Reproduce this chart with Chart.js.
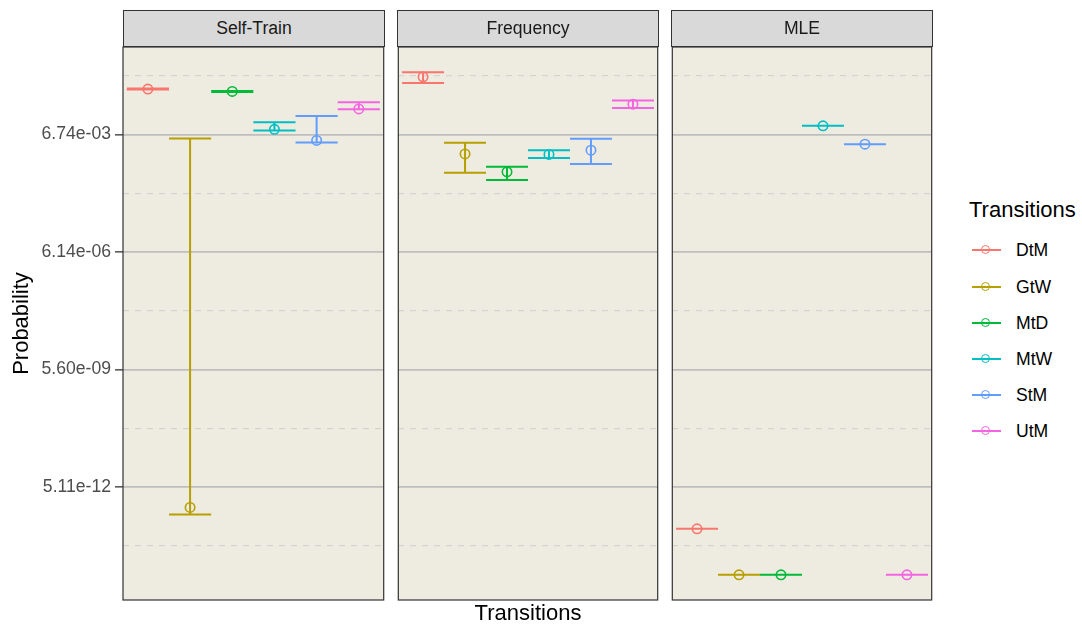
<!DOCTYPE html>
<html>
<head>
<meta charset="utf-8">
<script src="https://cdn.jsdelivr.net/npm/chart.js@4.4.1/dist/chart.umd.min.js"></script>
<style>
  html, body { margin: 0; padding: 0; background: #ffffff; }
  body { width: 1082px; height: 628px; position: relative; overflow: hidden;
         font-family: "Liberation Sans", Arial, Helvetica, sans-serif; }
  canvas { position: absolute; top: 0; }
  .strip { position: absolute; top: 10px; height: 37px; box-sizing: border-box;
           border: 1px solid #333333; background: #d9d9d9; color: #1a1a1a;
           font-size: 17.6px; display: flex; align-items: center; justify-content: center; }
  .xtitle { position: absolute; left: 123px; width: 810px; top: 600px; height: 26px;
            line-height: 26px; text-align: center; font-size: 22px; color: #000; }
  .legend-title { position: absolute; left: 969px; top: 197px; line-height: 26px;
                  font-size: 22px; color: #000; }
  .legend-item { position: absolute; left: 970px; width: 110px; height: 26px; }
  .legend-item .key-line { position: absolute; left: 1.7px; width: 29px; top: 12px; height: 2px; }
  .legend-item .key-dot { position: absolute; left: 11.2px; top: 8px; width: 7px; height: 7px;
                          border-radius: 50%; border: 1.6px solid; background: transparent; }
  .legend-item .key-text { position: absolute; left: 46px; top: 0; line-height: 26px;
                           font-size: 17.6px; color: #000; }
</style>
</head>
<body>
<canvas id="panel0" width="390" height="628" style="left:0px"></canvas>
<canvas id="panel1" width="272" height="628" style="left:392px"></canvas>
<canvas id="panel2" width="272" height="628" style="left:666px"></canvas>
<div class="xtitle">Transitions</div>
<div id="legend"></div>

<script>
// Facets, transition categories and colours
const facets = ['Self-Train', 'Frequency', 'MLE'];
const transitions = ['DtM', 'GtW', 'MtD', 'MtW', 'StM', 'UtM'];
const colors = ['#F8766D', '#B79F00', '#00BA38', '#00BFC4', '#619CFF', '#F564E3'];

// Estimated transition probabilities with lower / upper bounds
const selfTrainMean  = [0.1013, 1.524e-12, 0.08804, 0.009187, 0.004748, 0.03112];
const selfTrainLower = [0.09827, 1.001e-12, 0.08544, 0.008652, 0.004211, 0.03050];
const selfTrainUpper = [0.1044, 5.353e-3, 0.09072, 0.01412, 0.02024, 0.04596];

const frequencyMean  = [0.2101, 0.002134, 0.0007318, 0.002070, 0.002659, 0.04117];
const frequencyLower = [0.1466, 0.0006892, 0.0004528, 0.001662, 0.001159, 0.03304];
const frequencyUpper = [0.2780, 0.004128, 0.0009878, 0.002632, 0.005248, 0.05130];

const mleMean  = [4.236e-13, 2.735e-14, 2.735e-14, 0.01133, 0.003811, 2.735e-14];
const mleLower = [4.236e-13, 2.735e-14, 2.735e-14, 0.01133, 0.003811, 2.735e-14];
const mleUpper = [4.236e-13, 2.735e-14, 2.735e-14, 0.01133, 0.003811, 2.735e-14];

// Labelled breaks on the probability axis
const probabilityTicks = [6.738e-3, 6.144e-6, 5.603e-9, 5.109e-12];

const panels = [
  { mean: selfTrainMean, lower: selfTrainLower, upper: selfTrainUpper },
  { mean: frequencyMean, lower: frequencyLower, upper: frequencyUpper },
  { mean: mleMean,       lower: mleLower,       upper: mleUpper }
];

const FONT = '"Liberation Sans", Arial, Helvetica, sans-serif';
Chart.defaults.font.family = FONT;

// Shared y range: data extent on the log scale, widened by 5% each side
const allLower = panels.flatMap(p => p.lower);
const allUpper = panels.flatMap(p => p.upper);
const lnMin = Math.log(Math.min(...allLower));
const lnMax = Math.log(Math.max(...allUpper));
const lnPad = 0.05 * (lnMax - lnMin);
const yMin = Math.exp(lnMin - lnPad);
const yMax = Math.exp(lnMax + lnPad);

// Minor breaks sit halfway (geometrically) between the labelled ones
const stepRatio = Math.sqrt(probabilityTicks[0] / probabilityTicks[1]);
const gridTicks = [];
gridTicks.push({ value: probabilityTicks[0] * stepRatio, kind: 'minor' });
probabilityTicks.forEach(v => {
  gridTicks.push({ value: v, kind: 'major' });
  gridTicks.push({ value: v / stepRatio, kind: 'minor' });
});

function formatProb(v) {
  const [m, e] = v.toExponential(2).split('e');
  const sign = e[0] === '-' ? '-' : '+';
  const digits = e.replace(/^[+-]/, '').padStart(2, '0');
  return m + 'e' + sign + digits;
}

const CAP_HALF = 0.5;

// Panel background and frame
const panelFrame = {
  id: 'panelFrame',
  beforeDraw(chart) {
    const { ctx, chartArea: a } = chart;
    ctx.save();
    ctx.fillStyle = '#EEEBE0';
    ctx.fillRect(a.left, a.top, a.right - a.left, a.bottom - a.top);
    ctx.restore();
  },
  afterDraw(chart) {
    const { ctx, chartArea: a } = chart;
    ctx.save();
    ctx.strokeStyle = '#333333';
    ctx.lineWidth = 1.2;
    ctx.strokeRect(a.left, a.top, a.right - a.left, a.bottom - a.top);
    ctx.restore();
  }
};

// Error bars (lower/upper caps joined by a vertical stem)
const errorBars = {
  id: 'errorBars',
  beforeDatasetsDraw(chart) {
    const { ctx, scales: { x, y } } = chart;
    ctx.save();
    ctx.lineWidth = 2;
    ctx.lineCap = 'butt';
    chart.data.datasets.forEach(ds => {
      ctx.strokeStyle = ds.borderColor;
      ds.data.forEach(d => {
        const xc = x.getPixelForValue(d.x);
        const x0 = x.getPixelForValue(d.x - CAP_HALF);
        const x1 = x.getPixelForValue(d.x + CAP_HALF);
        const yl = y.getPixelForValue(d.lo);
        const yh = y.getPixelForValue(d.hi);
        ctx.beginPath();
        ctx.moveTo(xc, yl); ctx.lineTo(xc, yh);
        ctx.moveTo(x0, yl); ctx.lineTo(x1, yl);
        ctx.moveTo(x0, yh); ctx.lineTo(x1, yh);
        ctx.stroke();
      });
    });
    ctx.restore();
  }
};

function buildPanel(index) {
  const p = panels[index];
  const first = index === 0;
  const datasets = transitions.map((name, i) => ({
    label: name,
    data: [{ x: i + 1, y: p.mean[i], lo: p.lower[i], hi: p.upper[i] }],
    borderColor: colors[i],
    backgroundColor: 'rgba(0,0,0,0)',
    pointBackgroundColor: 'rgba(0,0,0,0)',
    pointBorderColor: colors[i],
    pointRadius: 4.7,
    pointHoverRadius: 4.7,
    pointBorderWidth: 1.6,
    showLine: false
  }));

  return new Chart(document.getElementById('panel' + index), {
    type: 'scatter',
    data: { datasets },
    options: {
      responsive: false,
      animation: false,
      events: [],
      devicePixelRatio: 1,
      layout: { padding: { top: 47, bottom: 28, left: first ? 0 : 5, right: 5 } },
      plugins: { legend: { display: false }, tooltip: { enabled: false } },
      scales: {
        x: {
          type: 'linear', min: 0.41, max: 6.59, display: false
        },
        y: {
          type: 'logarithmic',
          min: yMin, max: yMax,
          bounds: 'data',
          afterBuildTicks: s => { s.ticks = gridTicks.map(t => ({ value: t.value, kind: t.kind })); },
          afterFit: s => { s.width = first ? 123 : 0; },
          ticks: {
            display: first,
            autoSkip: false,
            padding: 4,
            color: '#4D4D4D',
            font: { size: 17.6, family: FONT },
            callback: (v, i, ticks) => ticks[i].kind === 'major' ? formatProb(v) : ''
          },
          grid: {
            drawTicks: first,
            tickLength: 8,
            tickWidth: 1.3,
            tickColor: c => (c.tick && c.tick.kind === 'major') ? '#333333' : 'rgba(0,0,0,0)',
            color: c => (c.tick && c.tick.kind === 'major') ? '#BEBEBE' : '#D3D3D3',
            lineWidth: c => (c.tick && c.tick.kind === 'major') ? 1.7 : 1.2
          },
          border: {
            display: false,
            dash: c => (c.tick && c.tick.kind === 'minor') ? [6, 6] : []
          },
          title: {
            display: first,
            text: 'Probability',
            color: '#000000',
            font: { size: 22, family: FONT },
            padding: { top: 9, bottom: 0 }
          }
        }
      }
    },
    plugins: [panelFrame, errorBars]
  });
}

// Facet strips
const stripLefts = [123, 397, 671];
facets.forEach((name, i) => {
  const d = document.createElement('div');
  d.className = 'strip';
  d.style.left = stripLefts[i] + 'px';
  d.style.width = '262px';
  d.textContent = name;
  document.body.appendChild(d);
});

panels.forEach((_, i) => buildPanel(i));

// Legend
const legend = document.getElementById('legend');
const lt = document.createElement('div');
lt.className = 'legend-title';
lt.textContent = 'Transitions';
legend.appendChild(lt);
transitions.forEach((name, i) => {
  const item = document.createElement('div');
  item.className = 'legend-item';
  item.style.top = (237.3 + i * 36.2) + 'px';
  const line = document.createElement('div');
  line.className = 'key-line';
  line.style.background = colors[i];
  const dot = document.createElement('div');
  dot.className = 'key-dot';
  dot.style.borderColor = colors[i];
  const txt = document.createElement('div');
  txt.className = 'key-text';
  txt.textContent = name;
  item.appendChild(line);
  item.appendChild(dot);
  item.appendChild(txt);
  legend.appendChild(item);
});
</script>
</body>
</html>
